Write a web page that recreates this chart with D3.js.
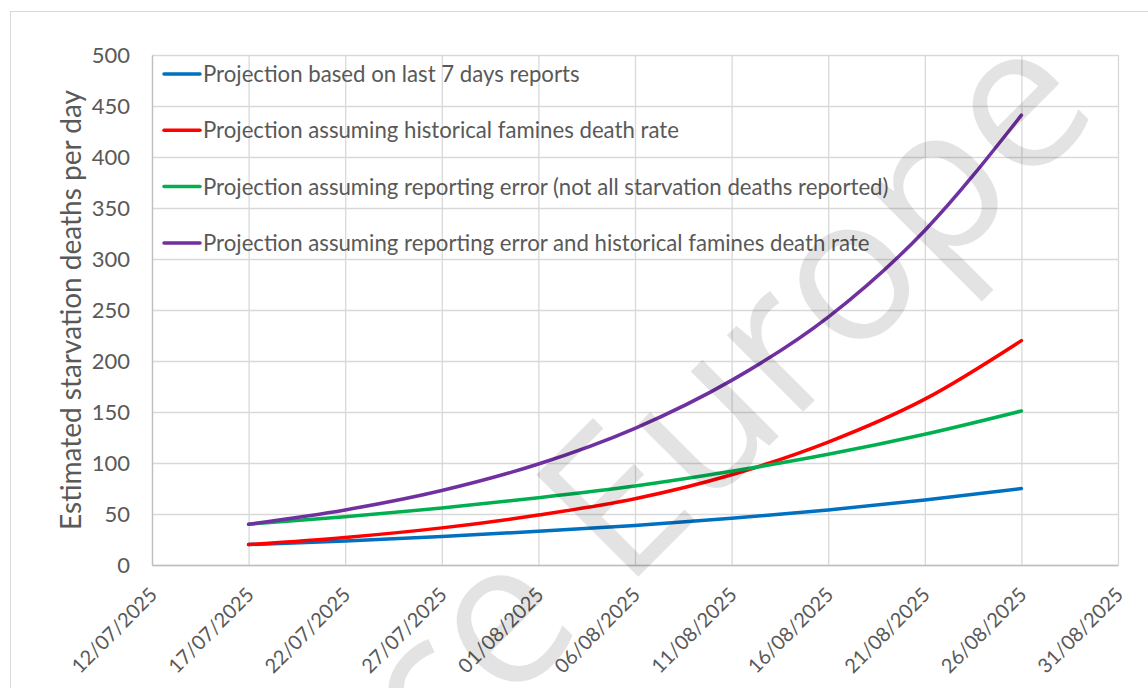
<!DOCTYPE html>
<html>
<head>
<meta charset="utf-8">
<script src="https://d3js.org/d3.v7.min.js"></script>
<style>
  body { margin: 0; background: #fff; }
  text { font-family: Lato, "Open Sans", sans-serif; fill: #595959; }
</style>
</head>
<body>
<svg id="chart" width="1148" height="688"></svg>
<script>
// dates every 5 days
const dates = ['2025-07-17', '2025-07-22', '2025-07-27', '2025-08-01', '2025-08-06',
  '2025-08-11', '2025-08-16', '2025-08-21', '2025-08-26'];
const last7days = [20, 23.6, 27.9, 33, 38.8, 45.8, 54, 63.8, 75];
const historicalRate = [20, 27, 36.4, 49, 65, 88.5, 120.5, 162.6, 220];
const reportingError = [40, 47.2, 55.8, 66, 77.5, 91.9, 108.5, 128.2, 151];
const reportingAndHistorical = [40, 54, 73, 99, 134, 181, 243, 328, 441];

const seriesNames = [
  'Projection based on last 7 days reports',
  'Projection assuming historical famines death rate',
  'Projection assuming reporting error (not all starvation deaths reported)',
  'Projection assuming reporting error and historical famines death rate'
];
const seriesColors = ['#0070c0', '#ff0000', '#00b050', '#7030a0'];
const xTicks = ['2025-07-12', '2025-07-17', '2025-07-22', '2025-07-27', '2025-08-01', '2025-08-06',
  '2025-08-11', '2025-08-16', '2025-08-21', '2025-08-26', '2025-08-31'];
const yTicks = [0, 50, 100, 150, 200, 250, 300, 350, 400, 450, 500];

const parseTime = d3.timeParse('%Y-%m-%d');
const series = [last7days, historicalRate, reportingError, reportingAndHistorical].map((vals, i) => ({
  name: seriesNames[i],
  color: seriesColors[i],
  values: vals.map((v, j) => ({ date: parseTime(dates[j]), value: v }))
}));

const chart = d3.select('#chart');
const margin = { top: 55, right: 30, bottom: 123, left: 152 };
const width = 1148 - margin.left - margin.right;
const height = 688 - margin.top - margin.bottom;

// outer chart frame
chart.append('rect')
  .attr('x', 10.5).attr('y', 11.5)
  .attr('width', 1200).attr('height', 800)
  .attr('fill', '#fff')
  .attr('stroke', '#d9d9d9');

const inner = chart.append('g')
  .attr('transform', `translate(${margin.left} ${margin.top})`);

const x = d3.scaleTime()
  .domain([parseTime(xTicks[0]), parseTime(xTicks[xTicks.length - 1])])
  .range([0, width]);
const y = d3.scaleLinear().domain([0, 500]).range([height, 0]);

// gridlines
inner.append('g')
  .call(d3.axisLeft(y).tickValues(yTicks).tickSize(-width).tickFormat(''))
  .call(g => g.select('.domain').remove())
  .call(g => g.selectAll('line').attr('stroke', '#d9d9d9').attr('stroke-width', 1.3));
inner.append('g')
  .attr('transform', `translate(0 ${height})`)
  .call(d3.axisBottom(x).tickValues(xTicks.map(parseTime)).tickSize(-height).tickFormat(''))
  .call(g => g.select('.domain').remove())
  .call(g => g.selectAll('line').attr('stroke', '#d9d9d9').attr('stroke-width', 1.3));

// axes
inner.append('g')
  .call(d3.axisLeft(y).tickValues(yTicks).tickSize(0).tickPadding(22))
  .call(g => g.select('.domain').attr('stroke', '#bfbfbf').attr('stroke-width', 1.3))
  .call(g => g.selectAll('text').style('font-size', '22px').attr('fill', '#595959').attr('dy', '0.35em'));

inner.append('g')
  .attr('transform', `translate(0 ${height})`)
  .call(d3.axisBottom(x).tickValues(xTicks.map(parseTime)).tickSize(0).tickFormat(d3.timeFormat('%d/%m/%Y')))
  .call(g => g.select('.domain').attr('stroke', '#bfbfbf').attr('stroke-width', 1.3))
  .call(g => g.selectAll('text')
    .style('font-size', '20px')
    .attr('fill', '#595959')
    .attr('text-anchor', 'end')
    .attr('dy', 0)
    .attr('y', 0)
    .attr('transform', 'translate(6 31) rotate(-45)'));

// y axis title
chart.append('text')
  .attr('transform', `translate(81 ${margin.top + height / 2}) rotate(-90)`)
  .attr('text-anchor', 'middle')
  .style('font-size', '28px')
  .text('Estimated starvation deaths per day');

// lines
const line = d3.line()
  .x(d => x(d.date))
  .y(d => y(d.value))
  .curve(d3.curveMonotoneX);

inner.selectAll('.series')
  .data(series)
  .join('path')
  .attr('class', 'series')
  .attr('fill', 'none')
  .attr('stroke', d => d.color)
  .attr('stroke-width', 3.5)
  .attr('stroke-linecap', 'round')
  .attr('d', d => line(d.values));

// legend
const legend = inner.append('g').attr('transform', 'translate(12 19)');
const row = legend.selectAll('g')
  .data(series)
  .join('g')
  .attr('transform', (d, i) => `translate(0 ${i * 56.3})`);
row.append('line')
  .attr('x1', 0).attr('x2', 36)
  .attr('stroke', d => d.color)
  .attr('stroke-width', 3.5)
  .attr('stroke-linecap', 'round');
row.append('text')
  .attr('x', 39)
  .attr('y', 8)
  .style('font-size', '22.2px')
  .text(d => d.name);

// watermark
chart.append('text')
  .attr('transform', 'translate(1103 112) rotate(-45)')
  .attr('text-anchor', 'end')
  .style('font-family', '"Open Sans", sans-serif')
  .style('font-size', '202px')
  .style('fill', '#000')
  .style('fill-opacity', 0.11)
  .text('ce Europe');
</script>
</body>
</html>
